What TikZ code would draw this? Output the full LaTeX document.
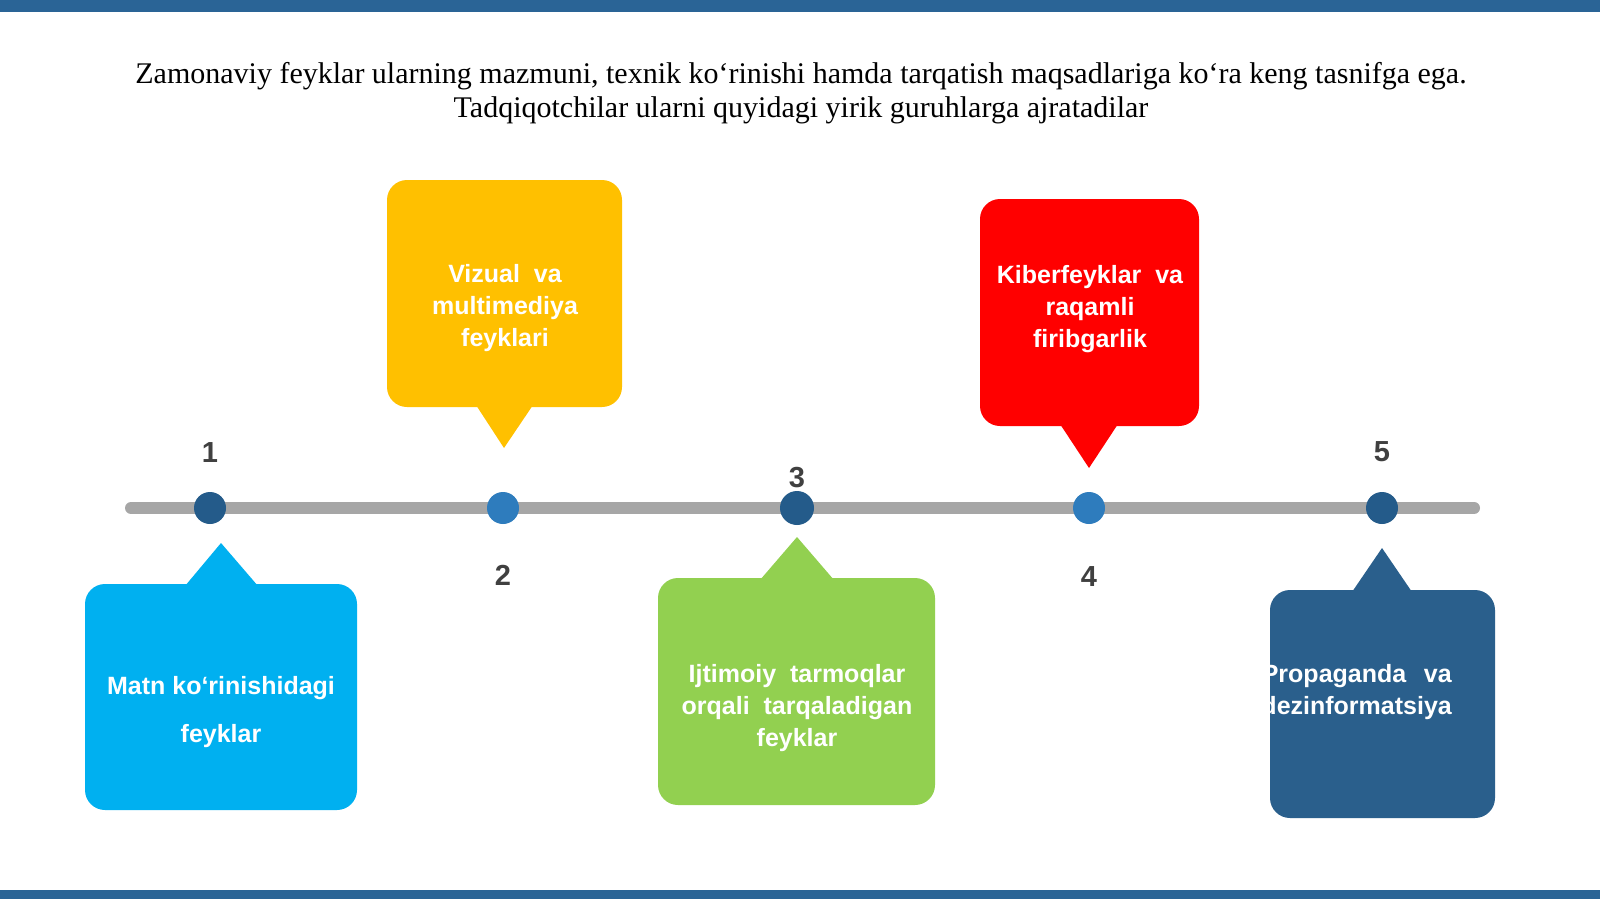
\documentclass[tikz,border=0pt]{standalone}
\usepackage{fontspec}
\setmainfont{Liberation Serif}
\newfontfamily\boxfont{Liberation Sans}
\definecolor{barblue}{HTML}{2A6496}
\definecolor{linegray}{HTML}{A6A6A6}
\definecolor{dotdark}{HTML}{245B8A}
\definecolor{dotmid}{HTML}{2E7CBD}
\definecolor{numgray}{HTML}{404040}
\definecolor{cyanbox}{HTML}{00B0F0}
\definecolor{yellowbox}{HTML}{FFC000}
\definecolor{greenbox}{HTML}{92D050}
\definecolor{redbox}{HTML}{FF0000}
\definecolor{navybox}{HTML}{2A5F8C}
\tikzset{
  dotnode/.style={circle, minimum size=32pt, inner sep=0pt},
  numlabel/.style={font=\boxfont\bfseries\fontsize{29}{32}\selectfont, text=numgray, inner sep=0pt},
  calloutbox/.style={rounded corners=20pt, inner sep=0pt},
  boxtext/.style={font=\boxfont\bfseries\fontsize{25}{32}\selectfont, text=white, align=center, inner sep=0pt},
  titletext/.style={font=\fontsize{30}{34}\selectfont, text=black, inner sep=0pt}
}
\begin{document}
\begin{tikzpicture}[x=1pt,y=-1pt]
\useasboundingbox (0,0) rectangle (1600,899);
\fill[white] (0,0) rectangle (1600,899);
\fill[barblue] (0,0) rectangle (1600,12);
\fill[barblue] (0,890) rectangle (1600,899);

% title
\node[titletext] (title1) at (801,76.5) {Zamonaviy feyklar ularning mazmuni, texnik ko‘rinishi hamda tarqatish maqsadlariga ko‘ra keng tasnifga ega.};
\node[titletext] (title2) at (801,110) {Tadqiqotchilar ularni quyidagi yirik guruhlarga ajratadilar};

% timeline
\coordinate (tl) at (131,508);
\coordinate (tr) at (1474,508);
\draw[line width=12pt, line cap=round, linegray] (tl) -- (tr);

% dots
\node[dotnode, fill=dotdark] (d1) at (210,508) {};
\node[dotnode, fill=dotmid] (d2) at (503,508) {};
\node[dotnode, fill=dotdark, minimum size=34pt] (d3) at (797,508) {};
\node[dotnode, fill=dotmid] (d4) at (1089,508) {};
\node[dotnode, fill=dotdark] (d5) at (1382,508) {};

% numbers
\node[numlabel] (n1) at (210,453) {1};
\node[numlabel] (n2) at (503,575) {2};
\node[numlabel] (n3) at (797,478) {3};
\node[numlabel] (n4) at (1089,577) {4};
\node[numlabel] (n5) at (1382,452) {5};

% callout 1 (cyan)
\node[calloutbox, fill=cyanbox, minimum width=272pt, minimum height=226pt] (b1) at (221,697) {};
\fill[cyanbox] (185,586) -- (221,543) -- (258,586) -- cycle;
\node[boxtext, font=\boxfont\bfseries\fontsize{25}{48}\selectfont] (t1) at (221,712) {Matn ko‘rinishidagi\\feyklar};

% callout 2 (yellow)
\node[calloutbox, fill=yellowbox, minimum width=235pt, minimum height=227pt] (b2) at (504.5,293.5) {};
\fill[yellowbox] (476,405) -- (504,448) -- (533,405) -- cycle;
\node[boxtext] (t2) at (505,308) {Vizual\ \ va\\multimediya\\feyklari};

% callout 3 (green)
\node[calloutbox, fill=greenbox, minimum width=277pt, minimum height=227pt] (b3) at (796.5,691.5) {};
\fill[greenbox] (760,580) -- (797,537) -- (834,580) -- cycle;
\node[boxtext] (t3) at (797,708) {Ijtimoiy\ \ tarmoqlar\\orqali\ \ tarqaladigan\\feyklar};

% callout 4 (red)
\node[calloutbox, fill=redbox, minimum width=219pt, minimum height=227pt] (b4) at (1089.5,312.5) {};
\fill[redbox] (1060,424) -- (1089,468) -- (1118,424) -- cycle;
\node[boxtext] (t4) at (1090,309) {Kiberfeyklar\ \ va\\raqamli\\firibgarlik};

% callout 5 (navy)
\node[calloutbox, fill=navybox, minimum width=225pt, minimum height=228pt] (b5) at (1382.5,704) {};
\fill[navybox] (1352,592) -- (1382,548) -- (1412,592) -- cycle;
\begin{scope}
\clip[rounded corners=20pt] (1270,590) rectangle (1495,818);
\node[boxtext, anchor=east, align=right] (t5) at (1452,692) {\makebox[190pt][s]{Propaganda va}\\dezinformatsiya};
\end{scope}
\end{tikzpicture}
\end{document}
